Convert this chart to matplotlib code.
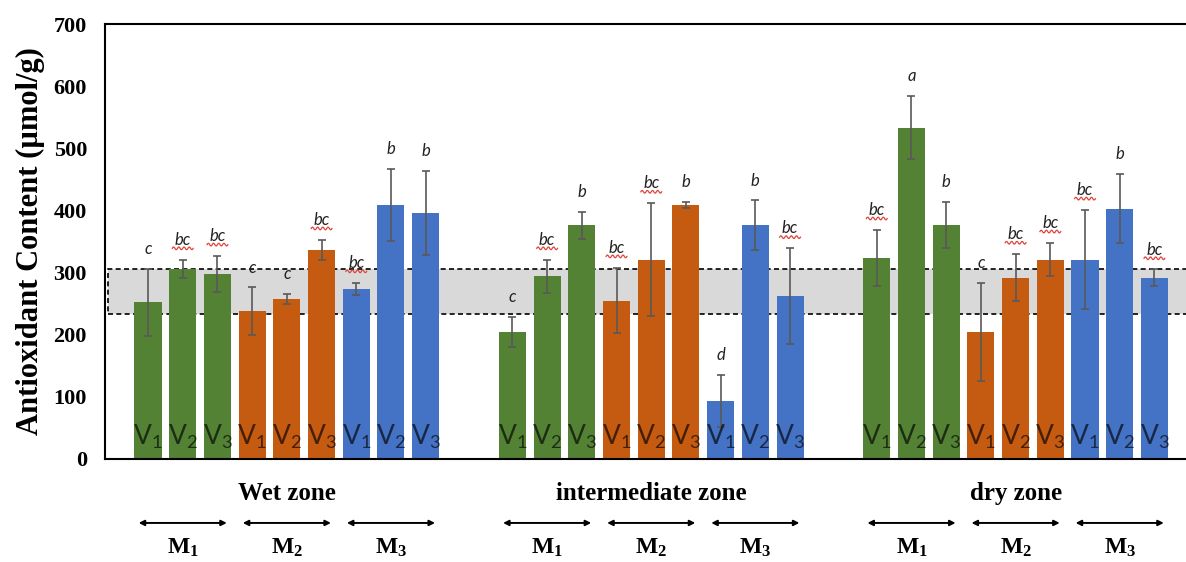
import numpy as np
import matplotlib.pyplot as plt
from matplotlib.patches import Rectangle

# ------ data
zones = ['Wet zone', 'intermediate zone', 'dry zone']
methods = ['$\\mathregular{M_1}$', '$\\mathregular{M_2}$', '$\\mathregular{M_3}$']
varieties = ['$\\mathregular{V_1}$', '$\\mathregular{V_2}$', '$\\mathregular{V_3}$']

wet_mean = [252, 306, 298, 238, 258, 337, 274, 409, 396]
wet_err = [54, 15, 29, 38, 8, 16, 10, 58, 68]
wet_letters = ['c', 'bc', 'bc', 'c', 'c', 'bc', 'bc', 'b', 'b']

int_mean = [204, 294, 376, 255, 321, 409, 93, 376, 262]
int_err = [24, 27, 22, 53, 91, 5, 42, 40, 77]
int_letters = ['c', 'bc', 'b', 'bc', 'bc', 'b', 'd', 'b', 'bc']

dry_mean = [324, 533, 376, 204, 292, 321, 321, 403, 292]
dry_err = [45, 51, 37, 79, 38, 27, 80, 56, 13]
dry_letters = ['bc', 'a', 'b', 'c', 'bc', 'bc', 'bc', 'b', 'bc']

band_low, band_high = 234, 306   # reference range (shaded band)

# ------ style
method_colors = ['#548235', '#C55A11', '#4472C4']
serif = 'Liberation Serif'
sans = 'Lato'
group_step = 10.5
bar_w = 0.78

means = [wet_mean, int_mean, dry_mean]
errs = [wet_err, int_err, dry_err]
letters = [wet_letters, int_letters, dry_letters]

fig = plt.figure(figsize=(11.86, 5.62), dpi=100)
ax = fig.add_axes([105 / 1186, 103 / 562, 1 - 105 / 1186, 435 / 562])

ax.add_patch(Rectangle((-1.15, band_low), 40, band_high - band_low,
                       facecolor='#D9D9D9', edgecolor='black',
                       linestyle=(0, (3, 2)), linewidth=1.2, zorder=1))

trans = ax.get_xaxis_transform()
for g in range(len(zones)):
    x = g * group_step + np.arange(9)
    cols = [method_colors[i // 3] for i in range(9)]
    ax.bar(x, means[g], width=bar_w, color=cols, zorder=2)
    ax.errorbar(x, means[g], yerr=errs[g], fmt='none', ecolor='#595959',
                elinewidth=1.2, capsize=3, capthick=1.2, zorder=3)
    for i in range(9):
        ax.text(x[i], 36, varieties[i % 3], ha='center', va='center',
                fontsize=19, family=sans, color='black', alpha=0.65,
                zorder=4)
        ytxt = means[g][i] + errs[g][i] + 32
        ax.text(x[i], ytxt, letters[g][i], ha='center', va='center',
                fontsize=12, family=sans, style='italic', color='#222222',
                zorder=4)
        if letters[g][i] == 'bc':
            wx = np.linspace(x[i] - 0.3, x[i] + 0.3, 40)
            wy = ytxt - 14 + 2.2 * np.sin((wx - wx[0]) * 2 * np.pi / 0.15)
            ax.plot(wx, wy, color='#E0443C', lw=0.9, zorder=4)

    # zone and method labels under the axis
    ax.text(g * group_step + 4, -0.08, zones[g], transform=trans,
            ha='center', va='center', fontsize=18, family=serif,
            fontweight='bold')
    for m in range(3):
        c = g * group_step + 3 * m + 1
        ax.annotate('', xy=(c - 1.27, -0.147), xytext=(c + 1.27, -0.147),
                    xycoords=trans, textcoords=trans, annotation_clip=False,
                    arrowprops=dict(arrowstyle='<|-|>', color='black', lw=1.4,
                                    mutation_scale=8, shrinkA=0, shrinkB=0))
        ax.text(c, -0.205, methods[m], transform=trans, ha='center',
                va='center', fontsize=17, family=serif, fontweight='bold')

ax.set_xlim(-1.24, 29.91)
ax.set_ylim(0, 700)
ax.set_yticks(np.arange(0, 701, 100))
ax.set_xticks([])
ax.tick_params(axis='y', length=0, pad=13)
for lab in ax.get_yticklabels():
    lab.set_family(serif)
    lab.set_fontweight('bold')
    lab.set_fontsize(16)

ax.spines['right'].set_visible(False)
for s in ['left', 'top', 'bottom']:
    ax.spines[s].set_linewidth(1.5)
    ax.spines[s].set_color('black')

ax.set_ylabel('Antioxidant Content (µmol/g)', fontsize=22, family=serif,
              fontweight='bold', labelpad=6)

fig.savefig('out.png', dpi=100)
